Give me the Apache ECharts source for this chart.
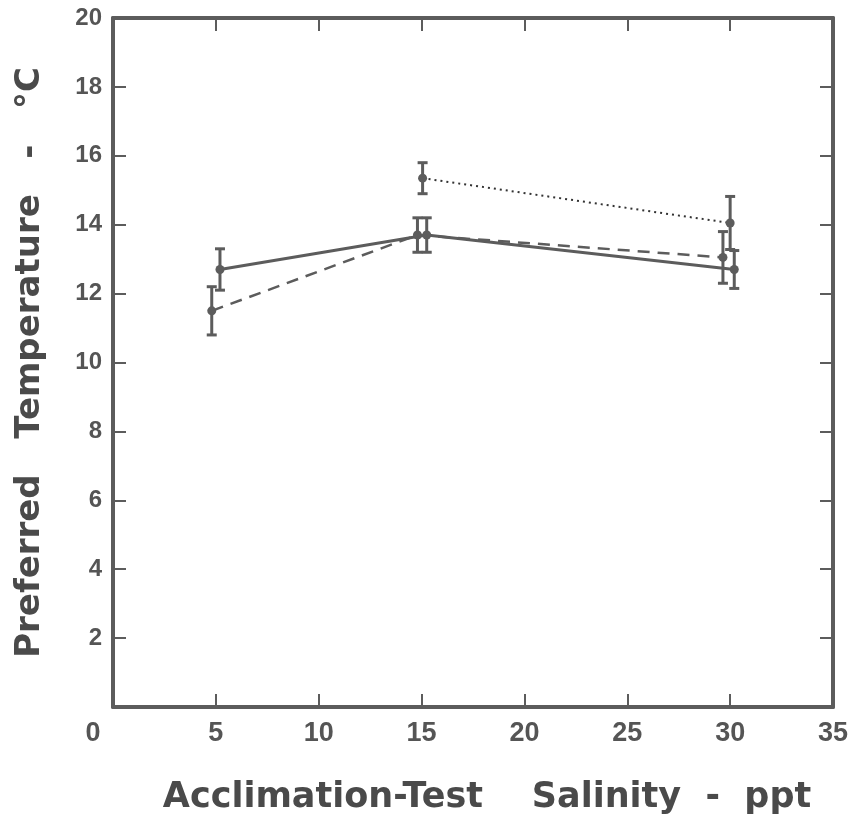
<!DOCTYPE html>
<html>
<head>
<meta charset="utf-8">
<script src="https://cdn.jsdelivr.net/npm/echarts@6/dist/echarts.min.js"></script>
<style>
  html, body { margin: 0; padding: 0; background: #fff; }
  #chart { width: 856px; height: 822px; }
</style>
</head>
<body>
<div id="chart"></div>
<script>
// Preferred temperature (mean ± error) by acclimation-test salinity
const solidX = [5.2, 15.25, 30.2];
const solidY = [12.7, 13.7, 12.7];
const solidErr = [0.6, 0.5, 0.55];

const dashedX = [4.8, 14.8, 29.65];
const dashedY = [11.5, 13.7, 13.05];
const dashedErr = [0.7, 0.5, 0.75];

const dottedX = [15.05, 30.0];
const dottedY = [15.35, 14.05];
const dottedErr = [0.45, 0.77];

const xTicks = [0, 5, 10, 15, 20, 25, 30, 35];
const yTicks = [0, 2, 4, 6, 8, 10, 12, 14, 16, 18, 20];

const INK = '#5c5c5c';
const FONT = '"Liberation Sans", Arial, sans-serif';
const TITLE_FONT = '"DejaVu Sans", "Liberation Sans", sans-serif';

function pairs(xs, ys) { return xs.map((x, i) => [x, ys[i]]); }
function bars(xs, ys, es) { return xs.map((x, i) => [x, ys[i] - es[i], ys[i] + es[i]]); }

function errorSeries(data, name) {
  return {
    type: 'custom',
    name: name,
    xAxisIndex: 0, yAxisIndex: 0,
    z: 3,
    data: data,
    renderItem: function (params, api) {
      const x = api.value(0);
      const lo = api.coord([x, api.value(1)]);
      const hi = api.coord([x, api.value(2)]);
      const cap = 5;
      const style = { stroke: INK, lineWidth: 3 };
      return {
        type: 'group',
        children: [
          { type: 'line', shape: { x1: lo[0], y1: lo[1], x2: hi[0], y2: hi[1] }, style: style },
          { type: 'line', shape: { x1: lo[0] - cap, y1: lo[1], x2: lo[0] + cap, y2: lo[1] }, style: style },
          { type: 'line', shape: { x1: hi[0] - cap, y1: hi[1], x2: hi[0] + cap, y2: hi[1] }, style: style }
        ]
      };
    }
  };
}

function lineSeries(xs, ys, lineType, width, color) {
  return {
    type: 'line',
    xAxisIndex: 0, yAxisIndex: 0,
    data: pairs(xs, ys),
    symbol: 'circle',
    symbolSize: 9,
    itemStyle: { color: INK },
    lineStyle: { type: lineType, width: width, color: color },
    z: 4,
    animation: false
  };
}

const axisLine = { show: true, onZero: false, lineStyle: { color: INK, width: 4 } };
const tickStyle = { show: true, inside: true, length: 13, lineStyle: { color: INK, width: 2 } };

const chart = echarts.init(document.getElementById('chart'));
chart.setOption({
  backgroundColor: '#ffffff',
  animation: false,
  grid: { left: 113, right: 23, top: 18, bottom: 115 },
  xAxis: [
    {
      type: 'value', min: 0, max: 35, interval: 5, position: 'bottom',
      axisLine: axisLine, axisTick: tickStyle, splitLine: { show: false },
      axisLabel: {
        margin: 13, color: '#555', fontFamily: FONT, fontWeight: 'bold', fontSize: 27,
        formatter: v => (v === 0 ? '{z|0}' : String(v)),
        rich: { z: { padding: [0, 40, 0, 0], color: '#555', fontFamily: FONT, fontWeight: 'bold', fontSize: 27 } }
      },
      name: 'Acclimation-Test    Salinity  -  ppt',
      nameLocation: 'middle', nameGap: 73,
      nameTextStyle: { color: '#4a4a4a', fontFamily: TITLE_FONT, fontWeight: 'bold', fontSize: 35, padding: [0, 0, 0, 28] }
    },
    {
      type: 'value', min: 0, max: 35, interval: 5, position: 'top',
      axisLine: axisLine, axisTick: tickStyle, splitLine: { show: false },
      axisLabel: { show: false }
    }
  ],
  yAxis: [
    {
      type: 'value', min: 0, max: 20, interval: 2, position: 'left',
      axisLine: axisLine, axisTick: tickStyle, splitLine: { show: false },
      axisLabel: {
        margin: 11, color: '#555', fontFamily: FONT, fontWeight: 'bold', fontSize: 24,
        showMinLabel: false
      },
      name: 'Preferred   Temperature   -   °C',
      nameLocation: 'middle', nameGap: 66, nameRotate: 90,
      nameTextStyle: { color: '#4a4a4a', fontFamily: TITLE_FONT, fontWeight: 'bold', fontSize: 34 }
    },
    {
      type: 'value', min: 0, max: 20, interval: 2, position: 'right',
      axisLine: axisLine, axisTick: tickStyle, splitLine: { show: false },
      axisLabel: { show: false }
    }
  ],
  series: [
    errorSeries(bars(solidX, solidY, solidErr), 'solid-err'),
    errorSeries(bars(dashedX, dashedY, dashedErr), 'dashed-err'),
    errorSeries(bars(dottedX, dottedY, dottedErr), 'dotted-err'),
    lineSeries(solidX, solidY, 'solid', 3, INK),
    lineSeries(dashedX, dashedY, [12, 8], 2.5, INK),
    lineSeries(dottedX, dottedY, [2, 4], 2, '#333')
  ]
});
</script>
</body>
</html>
